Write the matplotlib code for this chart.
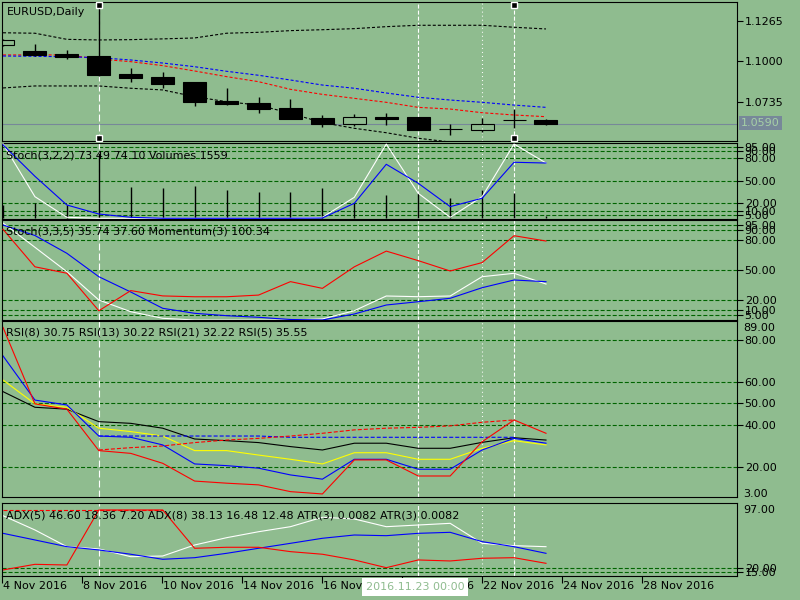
import matplotlib
matplotlib.use('Agg')
import matplotlib.pyplot as plt
import matplotlib.transforms as mtransforms
import numpy as np

plt.rcParams['font.family'] = 'DejaVu Sans'
plt.rcParams['font.size'] = 8
plt.rcParams['lines.scale_dashes'] = False

BG = '#8fbc8f'
GRID = '#006400'

# ---- data (daily bars, index 0..17) ----
opens  = [1.1108, 1.1067, 1.1047, 1.1034, 1.0916, 1.0897, 1.0864, 1.0742, 1.0727,
          1.0694, 1.0628, 1.0591, 1.0635, 1.0635, 1.0557, 1.0552, 1.0616, 1.0615]
highs  = [1.1145, 1.1113, 1.1073, 1.1365, 1.0956, 1.0929, 1.0866, 1.0825, 1.0766,
          1.0753, 1.0648, 1.0655, 1.0661, 1.0638, 1.0591, 1.0628, 1.0689, 1.0624]
lows   = [1.1100, 1.1037, 1.1012, 1.0905, 1.0866, 1.0827, 1.0707, 1.0713, 1.0663,
          1.0620, 1.0569, 1.0576, 1.0583, 1.0548, 1.0519, 1.0539, 1.0565, 1.0585]
closes = [1.1140, 1.1041, 1.1026, 1.0910, 1.0892, 1.0853, 1.0735, 1.0722, 1.0687,
          1.0624, 1.0589, 1.0635, 1.0622, 1.0552, 1.0559, 1.0589, 1.0618, 1.0591]
last_price = 1.0590

band_upper = [1.1186, 1.1183, 1.1143, 1.1139, 1.1141, 1.1146, 1.1152, 1.1183, 1.1189,
              1.1200, 1.1206, 1.1213, 1.1226, 1.1235, 1.1235, 1.1235, 1.1222, 1.1211]
band_lower = [1.0825, 1.0838, 1.0838, 1.0838, 1.0823, 1.0812, 1.0768, 1.0735, 1.0713,
              1.0659, 1.0598, 1.0561, 1.0532, 1.0496, 1.0471, 1.0452, 1.0445, 1.0439]
ma_red  = [1.1041, 1.1041, 1.1041, 1.1014, 1.0997, 1.0971, 1.0936, 1.0899, 1.0866,
           1.0816, 1.0783, 1.0757, 1.0731, 1.0698, 1.0687, 1.0663, 1.0648, 1.0637]
ma_blue = [1.1034, 1.1032, 1.1029, 1.1023, 1.1008, 1.0988, 1.0964, 1.0934, 1.0908,
           1.0877, 1.0844, 1.0823, 1.0792, 1.0764, 1.0746, 1.0731, 1.0713, 1.0698]

stoch1_main   = [98, 56, 17.7, 5.7, 1.3, 0, 0, 0, 0, 0, 0.4, 20, 72, 46.7, 15.5, 26.7, 74.7, 73.7]
stoch1_signal = [99.5, 28.8, 1.3, 0, 0, 0, 0, 0, 0, 0, 1.3, 28, 99, 33.3, 1.3, 28.8, 99, 73.7]
volumes = [9000, 10400, 8870, 43300, 21070, 20000, 21530, 18870, 17730,
           17330, 20000, 10400, 15530, 17070, 13330, 18870, 17070, 1559]

stoch2_main   = [95, 84.5, 66.7, 43.3, 28, 11.7, 6.7, 4.3, 2.7, 0.5, 0, 6, 15, 18.3, 21.7, 32.3, 40, 38.3]
stoch2_signal = [97, 72.7, 48.3, 20, 8.3, 1.7, 0, 0, 0, 0, 1, 9.3, 24, 23.3, 24, 43.3, 46.7, 36]
momentum = [100.85, 99.51, 99.28, 97.94, 98.66, 98.47, 98.44, 98.44, 98.50,
            98.98, 98.74, 99.51, 100.07, 99.73, 99.36, 99.66, 100.62, 100.43]

nan = float('nan')
rsi5  = [86, 49.8, 47.3, 27.7, 26.4, 21.7, 13.3, 12.3, 11.5, 8.3, 7.2, 23.3, 23.3, 15.7, 15.7, 31.9, 42.2, 35.9]
rsi8  = [72.5, 51.6, 49.3, 34.6, 34, 30.4, 21.4, 20.6, 19.4, 16.2, 14.2, 23.6, 23.6, 18.9, 18.9, 28, 33.5, 31.2]
rsi13 = [61.1, 49.8, 48.2, 38.3, 36.7, 34.6, 27.7, 27.7, 25.6, 23.6, 21.4, 26.7, 26.7, 23.6, 23.6, 28.8, 32.4, 30.4]
rsi21 = [55.6, 48.2, 47.3, 41.4, 40.6, 38.3, 33.2, 32.4, 31.5, 29.6, 28, 31.2, 31.2, 28.8, 28.8, 31.6, 33.8, 32.7]
rsi_red_dash  = [nan, nan, nan, 28.0, 29.1, 29.9, 31.5, 32.7, 33.5, 34.6, 35.9, 37.5, 38.3, 38.7, 39.4, 41.1, 42.2, nan]
rsi_blue_dash = [nan, nan, nan, 34.6, 34.6, 34.6, 34.6, 34.6, 34.6, 34.0, 34.0, 34.0, 34.0, 34.0, 34.0, 34.0, 34.0, nan]

adx_white = [81.9, 64.9, 45, 42.3, 33.1, 33.9, 47, 55.7, 62.8, 68.8, 80, 78, 68.8, 70.8, 72.8, 49, 46.2, 45]
adx_blue  = [60.9, 53, 45, 41.1, 36, 30, 31.9, 37.1, 43.1, 49, 55, 58.9, 58.1, 60.9, 62.1, 51, 45, 37.1]
adx_red   = [17.3, 24, 23.2, 88.7, 88.7, 88.7, 43.1, 44.3, 44.3, 39.1, 36, 29.2, 20, 29.2, 28, 31.2, 31.9, 25.2]
adx_red_dash = [88.3, 88.3, 88.3, 88.3, 88.3, 88.3] + [nan] * 12

xtick_pos = [-0.03, 2.47, 4.98, 7.48, 9.99, 12.49, 15.0, 17.5, 20.0]
xtick_labels = ['4 Nov 2016', '8 Nov 2016', '10 Nov 2016', '14 Nov 2016', '16 Nov 2016',
                '18 Nov 2016', '22 Nov 2016', '24 Nov 2016', '28 Nov 2016']
stoch_levels = [95, 90, 80, 50, 20, 10, 5]
rsi_levels = [80, 60, 50, 40, 20]
adx_levels = [20, 15]

W, H = 800, 600
fig = plt.figure(figsize=(8, 6), dpi=100, facecolor=BG)


def right_ticks(ax):
    ax.yaxis.tick_right()
    ax.tick_params(axis='y', direction='out', length=4, width=0.8, pad=1.5,
                   labelsize=8, colors='black')
    ax.tick_params(axis='x', bottom=False, labelbottom=False)


def panel(top, bottom):
    ax = fig.add_axes([2 / W, 1 - bottom / H, 735 / W, (bottom - top) / H])
    ax.set_facecolor(BG)
    for s in ax.spines.values():
        s.set_linewidth(0.8)
        s.set_color('black')
    ax.set_xlim(-0.031, 22.98)
    right_ticks(ax)
    return ax


def levels(ax, vals):
    for v in vals:
        ax.axhline(v, color=GRID, lw=0.8, dashes=(2.9, 1.45), zorder=1)
    ax.set_yticks(vals)
    ax.set_yticklabels(['%.2f' % v for v in vals])


def vlines(ax):
    ax.axvline(3, color='white', lw=0.8, dashes=(5, 2.2), zorder=1.5)
    ax.axvline(13, color='white', lw=0.8, dashes=(2.9, 1.45), zorder=1.5)
    ax.axvline(15, color='white', lw=0.8, dashes=(0.7, 2.2), zorder=1.5)
    ax.axvline(16, color='white', lw=0.8, dashes=(2.9, 1.45), zorder=1.5)


def label(px, py, s):
    fig.text(px / W, 1 - py / H, s, ha='left', va='center', fontsize=8, color='black')


x = np.arange(len(opens))
o, hi, lo, c = map(np.array, (opens, highs, lows, closes))
lw = 0.8

# ---- main price panel ----
ax1 = panel(2, 141)
ax1.set_ylim(1.04779, 1.13873)
vlines(ax1)
ax1.axhline(last_price, color='#778899', lw=0.8, zorder=1.2)
ax1.plot(x, band_upper, color='black', lw=lw, dashes=(2.2, 1.45))
ax1.plot(x, band_lower, color='black', lw=lw, dashes=(2.2, 1.45))
ax1.plot(x, ma_red, color='red', lw=lw, dashes=(2.2, 1.45))
ax1.plot(x, ma_blue, color='blue', lw=lw, dashes=(2.2, 1.45))
body_lo = np.minimum(o, c)
body_hi = np.maximum(o, c)
ax1.vlines(x, body_hi, hi, color='black', lw=1, zorder=3)
ax1.vlines(x, lo, body_lo, color='black', lw=1, zorder=3)
up = c >= o
ax1.bar(x[~up], (body_hi - body_lo)[~up], 0.72, bottom=body_lo[~up],
        color='black', edgecolor='black', lw=0.8, zorder=3)
ax1.bar(x[up], (body_hi - body_lo)[up], 0.72, bottom=body_lo[up],
        facecolor='none', edgecolor='black', lw=0.8, zorder=3)
trans1 = mtransforms.blended_transform_factory(ax1.transData, ax1.transAxes)
for xi in (3, 16):
    ax1.plot([xi, xi], [0.978, 0.022], transform=trans1, ls='none', marker='s',
             ms=4, mfc='black', mec='white', mew=1, zorder=5, clip_on=False)
main_ticks = [1.1265, 1.1000, 1.0735]
ax1.set_yticks(main_ticks)
ax1.set_yticklabels(['%.4f' % v for v in main_ticks])
label(7, 12, 'EURUSD,Daily')
fig.text(741 / W, 1 - 123 / H, '%.4f' % last_price, ha='left', va='center', fontsize=8,
         color='#a6d0a6', bbox=dict(facecolor='#778899', edgecolor='none', pad=1.5))

# ---- Stoch(3,2,2) + Volumes ----
ax2 = panel(143, 218.5)
ax2.set_ylim(-0.3, 100.4)
levels(ax2, stoch_levels)
vlines(ax2)
ax2v = ax2.twinx()
ax2v.set_ylim(-150, 50200)
ax2v.axis('off')
right_ticks(ax2)
ax2v.vlines(x, 0, volumes, color='black', lw=1)
ax2v.plot(x, stoch1_signal, color='white', lw=lw, transform=ax2.transData)
ax2v.plot(x, stoch1_main, color='blue', lw=lw, transform=ax2.transData)
label(6, 155, 'Stoch(3,2,2) 73.49 74.10 Volumes 1559')

# ---- Stoch(3,3,5) + Momentum ----
ax3 = panel(220, 319.5)
ax3.set_ylim(0.5, 100)
levels(ax3, stoch_levels)
vlines(ax3)
ax3.plot(x, stoch2_signal, color='white', lw=lw)
ax3.plot(x, stoch2_main, color='blue', lw=lw)
ax3m = ax3.twinx()
ax3m.set_ylim(97.628, 101.181)
ax3m.axis('off')
right_ticks(ax3)
ax3m.plot(x, momentum, color='red', lw=lw)
label(6, 231.7, 'Stoch(3,3,5) 35.74 37.60 Momentum(3) 100.34')

# ---- RSI ----
ax4 = panel(321, 496.5)
ax4.set_ylim(6.0, 89.0)
levels(ax4, rsi_levels)
vlines(ax4)
ax4.plot(x, rsi21, color='black', lw=lw)
ax4.plot(x, rsi13, color='yellow', lw=lw)
ax4.plot(x, rsi_blue_dash, color='blue', lw=lw, dashes=(2.9, 1.45))
ax4.plot(x, rsi_red_dash, color='red', lw=lw, dashes=(2.9, 1.45))
ax4.plot(x, rsi8, color='blue', lw=lw)
ax4.plot(x, rsi5, color='red', lw=lw)
label(6, 332.7, 'RSI(8) 30.75 RSI(13) 30.22 RSI(21) 32.22 RSI(5) 35.55')
label(743, 328, '89.00')
label(743, 494, '3.00')

# ---- ADX / ATR ----
ax5 = panel(503, 576)
ax5.set_ylim(10.1, 97)
levels(ax5, adx_levels)
vlines(ax5)
ax5.plot(x, adx_white, color='white', lw=lw)
ax5.plot(x, adx_blue, color='blue', lw=lw)
ax5.plot(x, adx_red_dash, color='red', lw=lw, dashes=(2.9, 1.45))
ax5.plot(x, adx_red, color='red', lw=lw)
label(6, 515, 'ADX(5) 46.60 18.36 7.20 ADX(8) 38.13 16.48 12.48 ATR(3) 0.0082 ATR(3) 0.0082')
label(743, 510, '97.00')

ax5.set_xticks(xtick_pos)
ax5.tick_params(axis='x', bottom=True, direction='out', length=5, width=0.8, labelbottom=False)
trans5 = mtransforms.offset_copy(
    mtransforms.blended_transform_factory(ax5.transData, ax5.transAxes),
    fig=fig, x=1, y=-5, units='dots')
for pos, txt in zip(xtick_pos, xtick_labels):
    ax5.text(pos, 0, txt, transform=trans5, ha='left', va='top', fontsize=8, clip_on=False)

fig.text(366 / W, 1 - 587 / H, '2016.11.23 00:00', ha='left', va='center', fontsize=8,
         color='#8fbc8f', zorder=10,
         bbox=dict(facecolor='white', edgecolor='none', pad=2.6))

fig.savefig('out.png', dpi=100, facecolor=BG)
